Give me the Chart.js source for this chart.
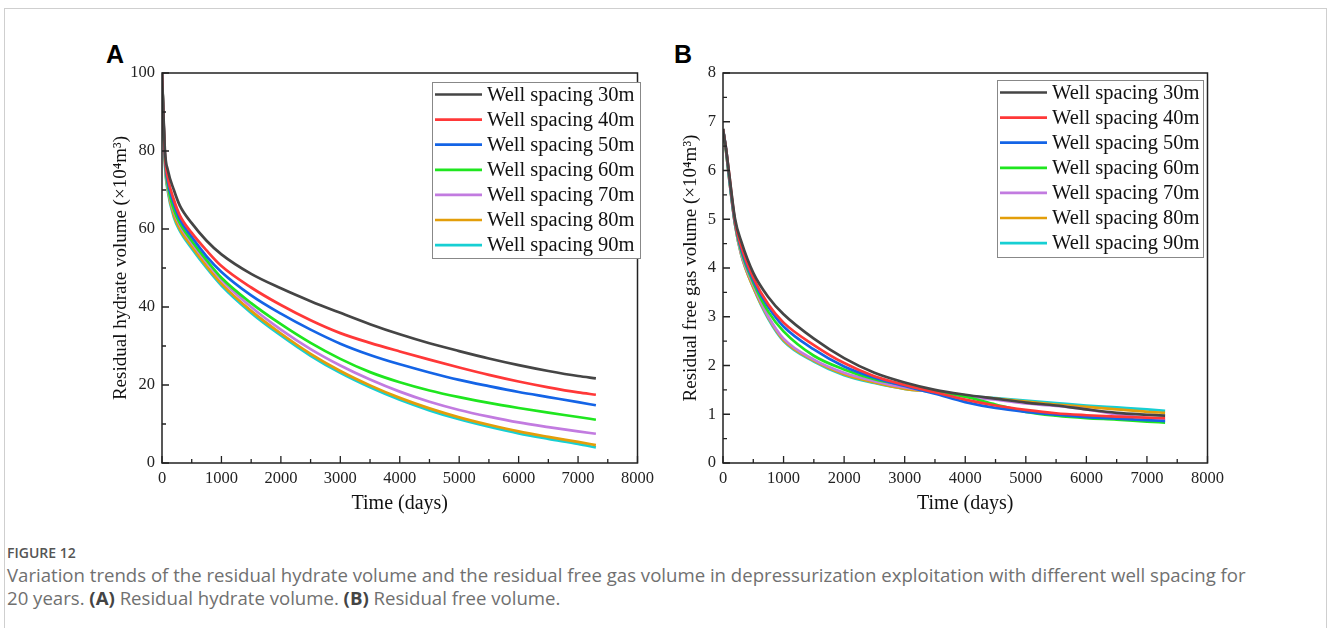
<!DOCTYPE html>
<html>
<head>
<meta charset="utf-8">
<script src="https://cdn.jsdelivr.net/npm/chart.js@4.4.1/dist/chart.umd.min.js"></script>
<style>
  html, body { margin: 0; padding: 0; background: #fff; }
  body { width: 1328px; height: 628px; position: relative; overflow: hidden; }
  #frame { position: absolute; left: 4px; top: 8px; width: 1323px; height: 640px; border: 1px solid #cfcfcf; box-sizing: border-box; }
  .panel { position: absolute; top: 40px; width: 560px; height: 480px; }
  #wa { left: 100px; }
  #wb { left: 670px; }
  .plabel { position: absolute; font-family: "Liberation Sans", Arial, sans-serif; font-weight: bold; font-size: 25px; color: #000; }
  #capHead { position: absolute; left: 7px; top: 543px; font-family: "Open Sans", sans-serif; font-weight: 600; font-size: 14px; color: #555; }
  .cap { position: absolute; left: 7px; font-family: "Open Sans", sans-serif; font-size: 18.6px; color: #707070; white-space: nowrap; }
  .cap b { color: #444; font-weight: 700; }
</style>
</head>
<body>
<div id="frame"></div>
<div class="plabel" style="left:106px; top:40px;">A</div>
<div class="plabel" style="left:674px; top:40px;">B</div>
<div class="panel" id="wa"><canvas id="ca" width="560" height="480"></canvas></div>
<div class="panel" id="wb"><canvas id="cb" width="560" height="480"></canvas></div>
<div id="capHead">FIGURE 12</div>
<div class="cap" style="top:562px;">Variation trends of the residual hydrate volume and the residual free gas volume in depressurization exploitation with different well spacing for</div>
<div class="cap" style="top:585px;">20 years. <b>(A)</b> Residual hydrate volume. <b>(B)</b> Residual free volume.</div>
<script>
// ---------- data ----------
const days = [0, 50, 100, 200, 300, 500, 750, 1000, 1500, 2000, 2500, 3000, 3500, 4000, 4500, 5000, 5500, 6000, 6500, 7000, 7300];
const seriesLabels = ["Well spacing 30m", "Well spacing 40m", "Well spacing 50m", "Well spacing 60m", "Well spacing 70m", "Well spacing 80m", "Well spacing 90m"];
const seriesColors = ["#454545", "#ff3838", "#1464e6", "#1fe61f", "#c27be0", "#e39e0a", "#17cfd3"];

// Panel A: residual hydrate volume (x10^4 m^3)
const hydrate30 = [100, 80, 75, 70, 66, 61.5, 57, 53.5, 48.5, 44.8, 41.5, 38.5, 35.6, 33, 30.7, 28.7, 26.8, 25.1, 23.6, 22.3, 21.7];
const hydrate40 = [100, 79, 73, 67.5, 63.5, 59, 54.5, 50.5, 45, 40.5, 36.6, 33.3, 30.8, 28.6, 26.5, 24.5, 22.6, 20.9, 19.4, 18.1, 17.5];
const hydrate50 = [100, 78.5, 72, 66.5, 62.5, 58, 53, 49, 43, 38.3, 34.2, 30.6, 27.7, 25.3, 23.2, 21.3, 19.7, 18.2, 16.9, 15.6, 14.8];
const hydrate60 = [100, 78, 71, 65, 61.5, 57, 52, 47.5, 41, 35.6, 30.8, 26.7, 23.3, 20.7, 18.6, 16.9, 15.4, 14.1, 12.9, 11.8, 11.1];
const hydrate70 = [100, 77.5, 70.5, 64.5, 61, 56.5, 51.5, 47, 40, 34.2, 29.2, 25, 21.4, 18.3, 15.7, 13.6, 11.9, 10.4, 9.2, 8.1, 7.5];
const hydrate80 = [100, 77, 70, 63.5, 60, 55.5, 50.5, 46, 39, 33.2, 28, 23.6, 19.9, 16.7, 14, 11.7, 9.8, 8.1, 6.7, 5.4, 4.6];
const hydrate90 = [100, 76.5, 69.5, 63, 59.5, 55, 50, 45.5, 38.5, 32.7, 27.5, 23.1, 19.4, 16.2, 13.5, 11.2, 9.3, 7.6, 6.2, 4.9, 4.0];

// Panel B: residual free gas volume (x10^4 m^3)
const gas30 = [6.85, 6.45, 5.95, 5.0, 4.55, 3.9, 3.4, 3.05, 2.55, 2.15, 1.85, 1.65, 1.5, 1.4, 1.32, 1.24, 1.18, 1.1, 1.03, 0.99, 0.97];
const gas40 = [6.85, 6.45, 5.95, 4.95, 4.45, 3.8, 3.25, 2.88, 2.42, 2.05, 1.78, 1.6, 1.45, 1.3, 1.18, 1.09, 1.02, 0.98, 0.95, 0.93, 0.92];
const gas50 = [6.85, 6.45, 5.9, 4.92, 4.4, 3.75, 3.2, 2.8, 2.33, 1.98, 1.75, 1.58, 1.42, 1.25, 1.13, 1.05, 0.99, 0.94, 0.91, 0.88, 0.86];
const gas60 = [6.85, 6.42, 5.88, 4.9, 4.35, 3.7, 3.1, 2.7, 2.2, 1.92, 1.72, 1.6, 1.48, 1.36, 1.2, 1.05, 0.97, 0.92, 0.89, 0.85, 0.83];
const gas70 = [6.85, 6.4, 5.85, 4.88, 4.3, 3.65, 3.0, 2.55, 2.12, 1.85, 1.68, 1.55, 1.45, 1.36, 1.3, 1.22, 1.17, 1.1, 1.0, 0.92, 0.88];
const gas80 = [6.85, 6.4, 5.85, 4.88, 4.28, 3.6, 2.98, 2.52, 2.1, 1.82, 1.65, 1.52, 1.46, 1.38, 1.32, 1.26, 1.2, 1.15, 1.1, 1.05, 1.03];
const gas90 = [6.85, 6.4, 5.85, 4.88, 4.28, 3.6, 2.95, 2.5, 2.08, 1.8, 1.64, 1.52, 1.46, 1.38, 1.33, 1.28, 1.23, 1.18, 1.14, 1.1, 1.07];

const xTicksMax = 8000, xStep = 1000, xMinor = 500;
const hydrateTitle = "Residual hydrate volume (\u00d710\u2074m\u00b3)";
const gasTitle = "Residual free gas volume (\u00d710\u2074m\u00b3)";
const xTitle = "Time (days)";

// ---------- helpers ----------
const SERIF = '"Liberation Serif", "Times New Roman", serif';

function makeDatasets(arrs) {
  return arrs.map((a, i) => ({
    label: seriesLabels[i],
    data: days.map((d, k) => ({ x: d, y: a[k] })),
    borderColor: seriesColors[i],
    backgroundColor: seriesColors[i],
    borderWidth: 2.7,
    pointRadius: 0,
    cubicInterpolationMode: 'monotone',
    fill: false
  }));
}

const framePlugin = {
  id: 'frameTicks',
  afterDraw(chart, args, opts) {
    const ctx = chart.ctx, a = chart.chartArea;
    const xs = chart.scales.x, ys = chart.scales.y;
    ctx.save();
    ctx.strokeStyle = '#222';
    ctx.lineWidth = 1.5;
    ctx.strokeRect(a.left, a.top, a.right - a.left, a.bottom - a.top);
    ctx.lineWidth = 1.3;
    ctx.beginPath();
    for (let v = 0; v <= xTicksMax; v += xMinor) {
      const px = xs.getPixelForValue(v);
      const len = (v % xStep === 0) ? 7 : 4;
      ctx.moveTo(px, a.bottom); ctx.lineTo(px, a.bottom - len);
    }
    for (let v = ys.min; v <= ys.max + 1e-9; v += opts.yMinor) {
      const py = ys.getPixelForValue(v);
      const isMajor = Math.abs(v / opts.yMajor - Math.round(v / opts.yMajor)) < 1e-6;
      const len = isMajor ? 7 : 4;
      ctx.moveTo(a.left, py); ctx.lineTo(a.left + len, py);
    }
    ctx.stroke();

    // legend box drawn from dataset labels/colors
    const lg = opts.legend;
    const ds = chart.data.datasets;
    ctx.fillStyle = '#fff';
    ctx.fillRect(lg.x, lg.y, lg.w, lg.h);
    ctx.strokeStyle = '#888';
    ctx.lineWidth = 1;
    ctx.strokeRect(lg.x + 0.5, lg.y + 0.5, lg.w, lg.h);
    ctx.font = '20.5px ' + SERIF;
    ctx.textBaseline = 'middle';
    ctx.textAlign = 'left';
    ds.forEach((d, i) => {
      const cy = lg.y + 12.5 + i * 25.1;
      ctx.strokeStyle = d.borderColor;
      ctx.lineWidth = 2.7;
      ctx.beginPath();
      ctx.moveTo(lg.x + 3, cy); ctx.lineTo(lg.x + 50, cy);
      ctx.stroke();
      ctx.fillStyle = '#111';
      ctx.fillText(d.label, lg.x + 55, cy + 1);
    });
    ctx.restore();
  }
};

function makeChart(id, arrs, yMax, yMajor, yMinor, yTitle, yWidth, rightPad, legend) {
  return new Chart(document.getElementById(id), {
    type: 'line',
    data: { datasets: makeDatasets(arrs) },
    plugins: [framePlugin],
    options: {
      responsive: false,
      animation: false,
      events: [],
      layout: { padding: { top: 33, right: rightPad, left: 0, bottom: 0 } },
      plugins: {
        legend: { display: false },
        tooltip: { enabled: false },
        frameTicks: { yMajor: yMajor, yMinor: yMinor, legend: legend }
      },
      scales: {
        x: {
          type: 'linear', min: 0, max: xTicksMax,
          grid: { display: false, drawTicks: false, tickLength: 0 },
          border: { display: false },
          ticks: { stepSize: xStep, color: '#222', font: { family: SERIF, size: 16.5 }, padding: 6, maxRotation: 0, callback: v => String(v) },
          title: { display: true, text: xTitle, color: '#111', font: { family: SERIF, size: 20 }, padding: { top: 0, bottom: 4 } },
          afterFit(s) { s.height = 57; }
        },
        y: {
          min: 0, max: yMax,
          grid: { display: false, drawTicks: false, tickLength: 0 },
          border: { display: false },
          ticks: { stepSize: yMajor, color: '#222', font: { family: SERIF, size: 16.5 }, padding: 7, callback: v => String(v) },
          title: { display: true, text: yTitle, color: '#111', font: { family: SERIF, size: 19 }, padding: { top: 10, bottom: 0 } },
          afterFit(s) { s.width = yWidth; }
        }
      }
    }
  });
}

makeChart('ca', [hydrate30, hydrate40, hydrate50, hydrate60, hydrate70, hydrate80, hydrate90],
  100, 20, 10, hydrateTitle, 62, 14, { x: 332, y: 42, w: 208, h: 176 });
makeChart('cb', [gas30, gas40, gas50, gas60, gas70, gas80, gas90],
  8, 1, 0.5, gasTitle, 53, 22, { x: 327, y: 40, w: 206, h: 177 });
</script>
</body>
</html>
